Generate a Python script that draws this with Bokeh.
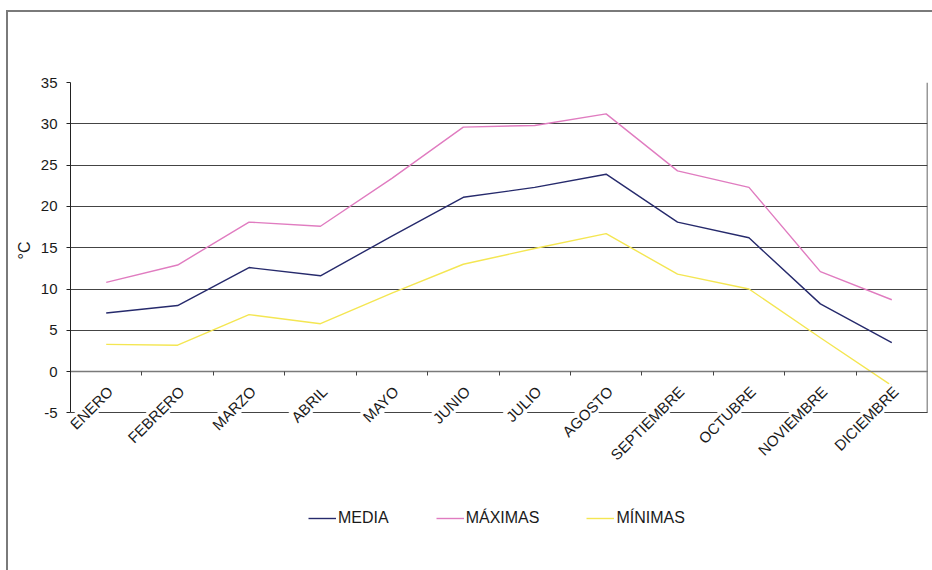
import math
from bokeh.plotting import figure
from bokeh.models import (Range1d, LinearAxis, FixedTicker, Legend, LegendItem,
                          LabelSet, ColumnDataSource, Title)
from bokeh.core.properties import value
from bokeh.embed import file_html
from bokeh.resources import INLINE

months = ["ENERO", "FEBRERO", "MARZO", "ABRIL", "MAYO", "JUNIO", "JULIO",
          "AGOSTO", "SEPTIEMBRE", "OCTUBRE", "NOVIEMBRE", "DICIEMBRE"]
media = [7.1, 8.0, 12.6, 11.6, 16.4, 21.1, 22.3, 23.9, 18.1, 16.2, 8.2, 3.5]
maximas = [10.8, 12.9, 18.1, 17.6, 23.4, 29.6, 29.8, 31.2, 24.3, 22.3, 12.1, 8.7]
minimas = [3.3, 3.2, 6.9, 5.8, 9.5, 13.0, 14.9, 16.7, 11.8, 10.0, 4.1, -1.7]
y_ticks = [-5, 0, 5, 10, 15, 20, 25, 30, 35]

FONT = "Liberation Sans"
n = len(months)
xs = [i + 0.5 for i in range(n)]

# layout: axis area is 329 px tall for the -5..35 span; frame extends lower
# so that category labels and legend below the axis are not clipped
AXIS_PX = 329.0
FRAME_PX = 466.0
y_lo = y_ticks[-1] - (y_ticks[-1] - y_ticks[0]) * FRAME_PX / AXIS_PX

p = figure(width=926, height=560, output_backend="svg", toolbar_location=None,
           x_range=Range1d(0, n), y_range=Range1d(y_lo, y_ticks[-1]),
           x_axis_location=None, y_axis_location=None,
           min_border_left=62, min_border_right=7, min_border_top=70,
           min_border_bottom=22,
           styles={"border-left": "2px solid #7a7a7a", "border-top": "2px solid #7a7a7a",
                   "margin-left": "6px", "margin-top": "10px"})
p.outline_line_color = None
p.background_fill_color = "white"
p.border_fill_color = "white"

# y axis
yax = LinearAxis(ticker=FixedTicker(ticks=y_ticks), bounds=(y_ticks[0], y_ticks[-1]))
yax.major_label_overrides = {t: str(t) for t in y_ticks}
yax.axis_line_color = "#222222"
yax.major_tick_line_color = "#222222"
yax.major_tick_out = 4
yax.major_tick_in = 0
yax.minor_tick_line_color = None
yax.major_label_standoff = 9
yax.major_label_text_font = FONT
yax.major_label_text_font_size = "15px"
yax.major_label_text_color = "#1a1a1a"
p.add_layout(yax, "left")

# y axis title, positioned alongside the -5..35 span
ytitle = Title(text="°C", align="left", offset=291, standoff=9,
               text_font=FONT, text_font_size="16px", text_font_style="normal",
               text_color="#1a1a1a")
p.add_layout(ytitle, "left")

# horizontal gridlines
p.ygrid.ticker = FixedTicker(ticks=y_ticks)
p.ygrid.grid_line_color = "#444444"
p.ygrid.grid_line_width = 1
p.xgrid.grid_line_color = None

# category axis crossing at zero, ticks between categories
xax = LinearAxis(ticker=FixedTicker(ticks=list(range(1, n))), fixed_location=0)
xax.axis_line_color = "#7a7a7a"
xax.axis_line_width = 1.5
xax.major_tick_line_color = "#444444"
xax.major_tick_out = 4
xax.major_tick_in = 0
xax.minor_tick_line_color = None
xax.major_label_text_font_size = "0px"
xax.major_label_text_alpha = 0
p.add_layout(xax, "below")

# right border of plot area
p.segment(x0=[n], y0=[y_ticks[0]], x1=[n], y1=[y_ticks[-1]],
          line_color="#333333", line_width=1.5)

r_media = p.line(xs, media, line_color="#262a6c", line_width=1.4)
r_max = p.line(xs, maximas, line_color="#e07cc0", line_width=1.4)
r_min = p.line(xs, minimas, line_color="#f4e652", line_width=1.4)

# rotated category labels with white backing
lab_src = ColumnDataSource(dict(x=xs, y=[-2.1] * n, text=months))
labels = LabelSet(x="x", y="y", text="text", source=lab_src, angle=math.pi / 4,
                  text_align="right", text_baseline="middle", x_offset=4,
                  text_font=value(FONT), text_font_size=value("15px"),
                  text_color="#1a1a1a",
                  background_fill_color="white", level="overlay")
p.add_layout(labels)

legend = Legend(items=[LegendItem(label="MEDIA", renderers=[r_media]),
                       LegendItem(label="MÁXIMAS", renderers=[r_max]),
                       LegendItem(label="MÍNIMAS", renderers=[r_min])],
                orientation="horizontal", location=(238, 22))
legend.glyph_width = 28
legend.glyph_height = 20
legend.label_standoff = 2
legend.spacing = 47
legend.padding = 10
legend.border_line_color = None
legend.background_fill_alpha = 0
legend.label_text_font = FONT
legend.label_text_font_size = "16px"
legend.label_text_color = "#1a1a1a"
p.add_layout(legend)

open("out.html", "w").write(file_html(p, INLINE))
